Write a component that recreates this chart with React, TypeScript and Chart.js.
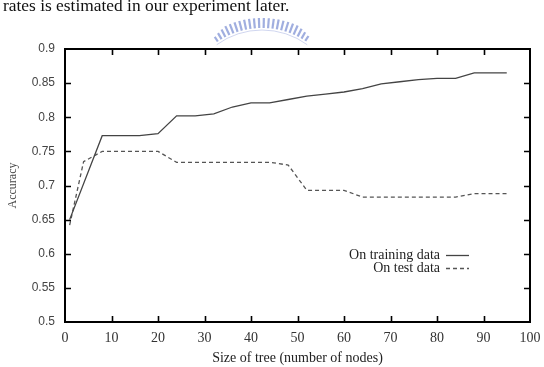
import React, { useEffect, useRef } from "react";
import { Chart, registerables } from "chart.js";

Chart.register(...registerables);

// Tree size (number of nodes) and accuracy for each evaluation set
const trainSizes = [1, 8, 16, 20, 24, 28, 32, 36, 40, 44, 48, 52, 56, 60, 64, 68, 72, 76, 80, 84, 88, 95];
const trainAccuracy = [0.65, 0.773, 0.773, 0.776, 0.802, 0.802, 0.805, 0.815, 0.821, 0.821, 0.826, 0.831, 0.834, 0.837, 0.842, 0.849, 0.852, 0.855, 0.857, 0.857, 0.865, 0.865];

const testSizes = [1, 4, 8, 20, 24, 44, 48, 52, 60, 64, 84, 88, 95];
const testAccuracy = [0.642, 0.735, 0.75, 0.75, 0.734, 0.734, 0.73, 0.693, 0.693, 0.683, 0.683, 0.688, 0.688];

const seriesLabels = ["On training data", "On test data"];
const xTitle = "Size of tree (number of nodes)";
const yTitle = "Accuracy";
const headerText = "rates is estimated in our experiment later.";

const SERIF = "'Liberation Serif', 'Times New Roman', serif";

// Gnuplot-style frame with inward ticks on all four sides, plus the in-plot key
const framePlugin = {
  id: "frameAndKey",
  afterDatasetsDraw(chart: any) {
    const { ctx, chartArea: a, scales } = chart;
    const xs = scales.x;
    const ys = scales.y;
    ctx.save();
    ctx.strokeStyle = "#000";
    ctx.lineWidth = 1.6;
    const tl = 6;
    xs.ticks.forEach((t: any) => {
      const px = Math.round(xs.getPixelForValue(t.value)) + 0.5;
      if (px <= a.left + 1 || px >= a.right - 1) return;
      ctx.beginPath();
      ctx.moveTo(px, a.bottom);
      ctx.lineTo(px, a.bottom - tl);
      ctx.moveTo(px, a.top);
      ctx.lineTo(px, a.top + tl);
      ctx.stroke();
    });
    ys.ticks.forEach((t: any) => {
      const py = Math.round(ys.getPixelForValue(t.value)) + 0.5;
      if (py <= a.top + 1 || py >= a.bottom - 1) return;
      ctx.beginPath();
      ctx.moveTo(a.left, py);
      ctx.lineTo(a.left + tl, py);
      ctx.moveTo(a.right, py);
      ctx.lineTo(a.right - tl, py);
      ctx.stroke();
    });
    ctx.lineWidth = 2;
    ctx.strokeRect(a.left, a.top, a.right - a.left, a.bottom - a.top);

    // key
    ctx.font = `14px ${SERIF}`;
    ctx.textAlign = "right";
    ctx.textBaseline = "middle";
    ctx.fillStyle = "#222";
    const textRight = 440;
    const rows = [255, 268];
    chart.data.datasets.forEach((ds: any, i: number) => {
      const y = rows[i];
      ctx.fillText(ds.label, textRight, y);
      ctx.beginPath();
      ctx.strokeStyle = ds.borderColor;
      ctx.lineWidth = ds.borderWidth;
      ctx.setLineDash(ds.borderDash || []);
      ctx.moveTo(textRight + 6, y + 0.5);
      ctx.lineTo(textRight + 29, y + 0.5);
      ctx.stroke();
      ctx.setLineDash([]);
    });
    ctx.restore();
  },
  afterDraw(chart: any) {
    // faint emblem under the running text
    const { ctx } = chart;
    ctx.save();
    const cx = 262;
    const cy = 107;
    ctx.strokeStyle = "rgba(120,140,210,0.7)";
    ctx.lineCap = "butt";
    const from = -124;
    const to = -56;
    for (let deg = from; deg <= to + 0.01; deg += 3.2) {
      const r = (deg * Math.PI) / 180;
      const edge = Math.min(deg - from, to - deg);
      const outer = 89 - (edge < 10 ? (10 - edge) * 0.45 : 0);
      const inner = 79;
      ctx.lineWidth = 2.2;
      ctx.beginPath();
      ctx.moveTo(cx + Math.cos(r) * inner, cy + Math.sin(r) * inner);
      ctx.lineTo(cx + Math.cos(r) * outer, cy + Math.sin(r) * outer);
      ctx.stroke();
    }
    ctx.strokeStyle = "rgba(150,165,220,0.45)";
    ctx.lineWidth = 1;
    ctx.beginPath();
    ctx.arc(cx, cy, 77, (-126 * Math.PI) / 180, (-54 * Math.PI) / 180);
    ctx.stroke();
    ctx.restore();
  },
};

export default function App() {
  const canvasRef = useRef<HTMLCanvasElement | null>(null);

  useEffect(() => {
    const canvas = canvasRef.current;
    if (!canvas) return;
    const toPoints = (xs: number[], ys: number[]) => xs.map((x, i) => ({ x, y: ys[i] }));
    const chart = new Chart(canvas, {
      type: "line",
      data: {
        datasets: [
          {
            label: seriesLabels[0],
            data: toPoints(trainSizes, trainAccuracy),
            borderColor: "#444",
            borderWidth: 1.3,
            pointRadius: 0,
            tension: 0,
            fill: false,
          },
          {
            label: seriesLabels[1],
            data: toPoints(testSizes, testAccuracy),
            borderColor: "#555",
            borderWidth: 1.3,
            borderDash: [4, 3],
            pointRadius: 0,
            tension: 0,
            fill: false,
          },
        ],
      },
      options: {
        responsive: false,
        animation: false,
        devicePixelRatio: 1,
        layout: { padding: { top: 49, right: 14, left: 0, bottom: 0 } },
        plugins: {
          legend: { display: false },
          tooltip: { enabled: false },
        },
        scales: {
          x: {
            type: "linear",
            min: 0,
            max: 100,
            ticks: {
              stepSize: 10,
              padding: 8,
              color: "#333",
              font: { family: SERIF, size: 14 },
            },
            grid: { display: false, drawTicks: false },
            border: { display: false },
            title: {
              display: true,
              text: xTitle,
              color: "#222",
              font: { family: SERIF, size: 14 },
              padding: { top: 0, bottom: 0 },
            },
            afterFit: (s: any) => {
              s.height = 45;
              s.paddingLeft = 0;
              s.paddingRight = 0;
            },
          },
          y: {
            type: "linear",
            min: 0.5,
            max: 0.9,
            ticks: {
              stepSize: 0.05,
              padding: 10,
              color: "#444",
              font: { family: "'Liberation Sans', Arial, sans-serif", size: 12 },
              callback: (v: any) => String(Math.round(Number(v) * 100) / 100),
            },
            grid: { display: false, drawTicks: false },
            border: { display: false },
            title: {
              display: true,
              text: yTitle,
              color: "#444",
              font: { family: SERIF, size: 12 },
              padding: { top: 6, bottom: 0 },
            },
            afterFit: (s: any) => {
              s.width = 65;
              s.paddingTop = 0;
              s.paddingBottom = 0;
            },
          },
        },
      },
      plugins: [framePlugin],
    });
    return () => chart.destroy();
  }, []);

  return (
    <div style={{ position: "absolute", left: 0, top: 0, width: 544, height: 367, background: "#fff", overflow: "hidden" }}>
      <canvas ref={canvasRef} width={544} height={367} style={{ position: "absolute", left: 0, top: 0, width: 544, height: 367 }} />
      <div
        style={{
          position: "absolute",
          left: 3,
          top: -5,
          fontFamily: SERIF,
          fontSize: 17.4,
          color: "#111",
          whiteSpace: "nowrap",
        }}
      >
        {headerText}
      </div>
    </div>
  );
}
